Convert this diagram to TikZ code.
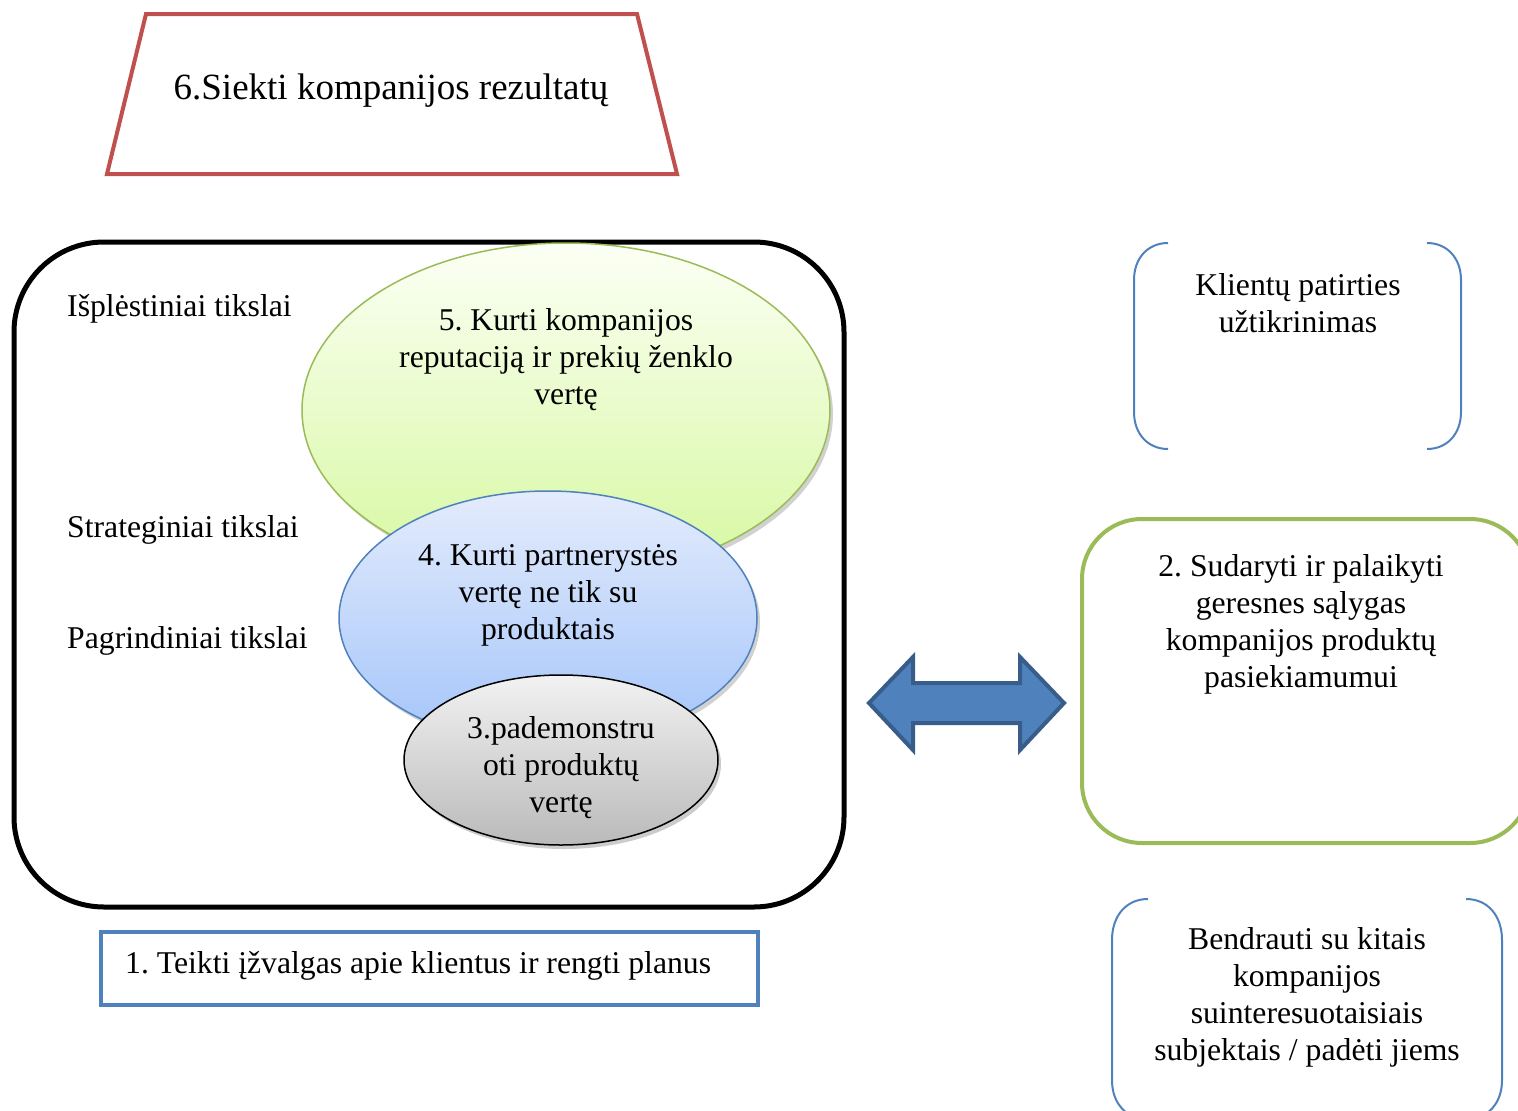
\documentclass[tikz,border=0pt]{standalone}
\usepackage{fontspec}
\setmainfont{Liberation Serif}
\frenchspacing
\begin{document}
\begin{tikzpicture}[x=1pt,y=-1pt,
  txt/.style={font=\fontsize{31.7}{37}\selectfont, align=center, inner sep=0pt},
  lbl/.style={font=\fontsize{31.7}{37}\selectfont, anchor=west, inner sep=0pt},
  brk/.style={draw=accblue, line width=2pt},
]
\definecolor{accred}{HTML}{C0504D}
\definecolor{accblue}{HTML}{4F81BD}
\definecolor{accblued}{HTML}{385D8A}
\definecolor{accgreen}{HTML}{9BBB59}
\useasboundingbox (0,0) rectangle (1518,1111);

% 6 trapezoid
\draw[accred, line width=4pt, line join=miter] (146,14) -- (637,14) -- (677,174) -- (107,174) -- cycle;
\node[txt, font=\fontsize{37}{43}\selectfont] (t6) at (391,91) {6.Siekti kompanijos rezultatų};

% big rounded frame
\draw[black, line width=5pt, rounded corners=90pt] (14,242) rectangle (844,907);

% level labels
\node[lbl] (l1) at (67,309) {Išplėstiniai tikslai};
\node[lbl] (l2) at (67,530) {Strateginiai tikslai};
\node[lbl] (l3) at (67,641) {Pagrindiniai tikslai};

% ellipse 5 (green)
\fill[black, opacity=0.18] (569,414) ellipse [x radius=264pt, y radius=167pt];
\shade[top color=green!8!lime!4!white, bottom color={rgb,255:red,214;green,248;blue,160}, draw=accgreen, line width=1.5pt]
  (566,410) ellipse [x radius=264pt, y radius=167pt];
\node[txt] (e5) at (566,360) {5. Kurti kompanijos\\reputaciją ir prekių ženklo\\vertę};

% ellipse 4 (blue)
\fill[black, opacity=0.18] (551,622) ellipse [x radius=209pt, y radius=127pt];
\shade[top color={rgb,255:red,228;green,236;blue,252}, bottom color={rgb,255:red,163;green,196;blue,250}, draw=accblue, line width=1.5pt]
  (548,618) ellipse [x radius=209pt, y radius=127pt];
\node[txt] (e4) at (548,595) {4. Kurti partnerystės\\vertę ne tik su\\produktais};

% ellipse 3 (gray)
\fill[black, opacity=0.2] (564,764) ellipse [x radius=157pt, y radius=85pt];
\shade[top color={rgb,255:red,242;green,242;blue,242}, bottom color={rgb,255:red,186;green,186;blue,186}, draw=black, line width=1.5pt]
  (561,760) ellipse [x radius=157pt, y radius=85pt];
\node[txt] (e3) at (561,768) {3.pademonstru\\oti produktų\\vertę};

% box 1
\draw[accblue, line width=4pt] (101,932) rectangle (758,1005);
\node[lbl] (b1) at (125,966) {1. Teikti įžvalgas apie klientus ir rengti planus};

% double arrow
\draw[accblued, fill=accblue, line width=4pt, line join=miter]
  (869,703) -- (913,657) -- (913,683) -- (1020,683) -- (1020,657) -- (1064,703)
  -- (1020,750) -- (1020,723) -- (913,723) -- (913,750) -- cycle;
\coordinate (arrL) at (869,703);
\coordinate (arrR) at (1064,703);

% green box 2
\draw[accgreen, line width=4pt, rounded corners=60pt] (1082,519) rectangle (1530,843);
\node[txt] (b2) at (1301,624) {2. Sudaryti ir palaikyti\\geresnes sąlygas\\kompanijos produktų\\pasiekiamumui};

% bracket box: Klientu
\draw[brk] (1168,243) .. controls (1148,243) and (1134,258) .. (1134,280) -- (1134,412)
  .. controls (1134,434) and (1148,449) .. (1168,449);
\draw[brk] (1427,243) .. controls (1447,243) and (1461,258) .. (1461,280) -- (1461,412)
  .. controls (1461,434) and (1447,449) .. (1427,449);
\node[txt] (kl) at (1298,303) {Klientų patirties\\užtikrinimas};

% bracket box: Bendrauti
\draw[brk] (1148,899) .. controls (1126,899) and (1112,916) .. (1112,940) -- (1112,1080)
  .. controls (1112,1100) and (1122,1112) .. (1135,1118);
\draw[brk] (1466,899) .. controls (1488,899) and (1502,916) .. (1502,940) -- (1502,1080)
  .. controls (1502,1100) and (1492,1112) .. (1479,1118);
\node[txt] (bd) at (1307,997) {Bendrauti su kitais\\kompanijos\\suinteresuotaisiais\\subjektais / padėti jiems};
\end{tikzpicture}
\end{document}
